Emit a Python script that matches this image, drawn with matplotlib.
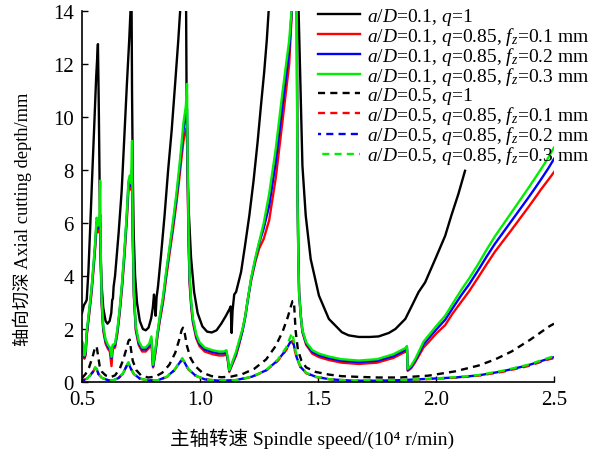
import matplotlib
matplotlib.use('Agg')
import matplotlib.pyplot as plt

plt.rcParams['font.family'] = ['Liberation Serif', 'Noto Sans CJK SC']
plt.rcParams['mathtext.fontset'] = 'custom'
plt.rcParams['mathtext.rm'] = 'Liberation Serif'
plt.rcParams['mathtext.it'] = 'Liberation Serif:italic'

# a/D = 0.1, q = 1 (black solid)
x_k = [0.500, 0.508, 0.515, 0.520, 0.527, 0.534, 0.545, 0.552, 0.560, 0.5675, 0.571, 0.574,
       0.577, 0.582, 0.590, 0.600, 0.608, 0.617, 0.624, 0.628, 0.631, 0.634, 0.640, 0.655,
       0.668, 0.678, 0.690, 0.700, 0.707, 0.710, 0.712, 0.715, 0.719, 0.725, 0.733, 0.745,
       0.758, 0.770, 0.782, 0.793, 0.800, 0.805, 0.809, 0.812, 0.816, 0.822, 0.835, 0.850,
       0.865, 0.880, 0.895, 0.908, 0.918, 0.941, 0.943, 0.946, 0.952, 0.962, 0.975, 0.990,
       1.010, 1.030, 1.050, 1.070, 1.090, 1.110, 1.125, 1.130, 1.134, 1.138, 1.145, 1.153,
       1.174, 1.190, 1.209, 1.227, 1.244, 1.258, 1.272, 1.283, 1.293, 1.417, 1.427, 1.434,
       1.448, 1.469, 1.504, 1.546, 1.601, 1.630, 1.673, 1.720, 1.757, 1.800, 1.828, 1.870,
       1.898, 1.926, 1.954, 1.997, 2.039, 2.065, 2.095, 2.123]
y_k = [2.60, 2.90, 3.00, 3.10, 4.15, 5.66, 8.18, 9.70, 11.50, 12.75, 10.50, 8.00,
       5.50, 3.80, 2.80, 2.30, 2.20, 2.30, 2.60, 3.10, 3.15, 3.60, 4.00, 5.60,
       7.20, 9.00, 11.20, 12.90, 14.30, 14.30, 11.00, 8.00, 5.60, 4.00, 3.00, 2.30,
       2.00, 1.95, 2.05, 2.40, 2.80, 3.30, 2.90, 2.50, 3.20, 3.60, 4.80, 6.30,
       8.00, 9.50, 11.30, 12.90, 14.30, 14.30, 11.00, 8.50, 6.50, 4.70, 3.40, 2.60,
       2.10, 1.90, 1.87, 1.95, 2.20, 2.50, 2.75, 2.85, 1.85, 2.70, 3.30, 3.40,
       4.15, 5.10, 6.28, 7.60, 9.05, 10.40, 11.70, 12.90, 14.30, 14.30, 10.70, 8.16,
       6.28, 4.64, 3.26, 2.38, 1.88, 1.76, 1.70, 1.70, 1.72, 1.85, 2.00, 2.38,
       2.88, 3.39, 3.76, 4.64, 5.52, 6.28, 7.10, 7.97]

# a/D = 0.1, q = 0.85 for fz = 0.1 / 0.2 / 0.3 mm (red / blue / green solid)
x_c = [0.500, 0.505, 0.510, 0.515, 0.520, 0.530, 0.540, 0.550, 0.556, 0.562, 0.568, 0.574,
       0.577, 0.579, 0.583, 0.590, 0.600, 0.610, 0.618, 0.625, 0.630, 0.640, 0.650, 0.660,
       0.670, 0.680, 0.690, 0.697, 0.703, 0.708, 0.712, 0.715, 0.720, 0.728, 0.740, 0.755,
       0.770, 0.785, 0.794, 0.801, 0.806, 0.812, 0.820, 0.830, 0.843, 0.857, 0.871, 0.886,
       0.900, 0.912, 0.921, 0.930, 0.940, 0.945, 0.948, 0.952, 0.956, 0.963, 0.970, 0.984,
       0.998, 1.020, 1.053, 1.080, 1.100, 1.112, 1.118, 1.124, 1.135, 1.153, 1.167, 1.180,
       1.192, 1.202, 1.216, 1.235, 1.251, 1.270, 1.293, 1.321, 1.349, 1.378, 1.392, 1.410,
       1.413, 1.417, 1.420, 1.427, 1.434, 1.450, 1.476, 1.504, 1.546, 1.600, 1.673, 1.750,
       1.820, 1.870, 1.877, 1.880, 1.895, 1.912, 1.930, 1.947, 1.968, 2.000, 2.039, 2.070,
       2.109, 2.140, 2.179, 2.215, 2.250, 2.285, 2.320, 2.355, 2.390, 2.420, 2.446, 2.475,
       2.500]
y_g = [1.55, 1.45, 1.00, 1.15, 1.90, 2.70, 3.50, 4.60, 5.30, 6.20, 5.90, 6.20,
       7.60, 5.20, 3.20, 2.10, 1.60, 1.40, 1.30, 0.95, 1.40, 1.45, 2.00, 2.80,
       3.80, 5.00, 6.40, 7.60, 7.80, 7.50, 9.10, 5.80, 3.40, 2.10, 1.55, 1.30,
       1.30, 1.45, 1.72, 0.65, 0.95, 1.30, 1.90, 2.50, 3.20, 4.20, 5.10, 6.10,
       7.10, 8.10, 8.90, 9.80, 10.40, 11.25, 8.00, 5.50, 4.00, 3.00, 2.40, 1.80,
       1.50, 1.30, 1.20, 1.15, 1.15, 1.20, 0.90, 0.45, 0.70, 1.15, 1.60, 2.00,
       2.50, 3.10, 3.90, 4.70, 5.30, 6.00, 7.10, 8.80, 10.90, 12.90, 14.50, 14.50,
       7.00, 4.50, 3.30, 2.50, 1.95, 1.50, 1.20, 1.07, 0.96, 0.86, 0.81, 0.86,
       1.05, 1.28, 1.36, 0.50, 0.62, 0.87, 1.20, 1.52, 1.75, 2.10, 2.50, 2.95,
       3.50, 3.90, 4.45, 5.00, 5.50, 5.95, 6.40, 6.85, 7.30, 7.70, 8.05, 8.45,
       8.85]
y_b = [1.48, 1.38, 0.94, 1.08, 1.82, 2.62, 3.42, 4.50, 5.20, 6.05, 5.80, 6.10,
       6.30, 5.00, 3.10, 2.02, 1.53, 1.33, 1.23, 0.90, 1.33, 1.38, 1.92, 2.72,
       3.70, 4.90, 6.30, 7.50, 7.70, 7.40, 8.00, 5.60, 3.30, 2.02, 1.48, 1.23,
       1.23, 1.38, 1.62, 0.60, 0.88, 1.23, 1.82, 2.42, 3.10, 4.10, 5.00, 5.95,
       6.95, 7.90, 8.70, 9.50, 10.10, 10.30, 7.60, 5.30, 3.85, 2.90, 2.32, 1.73,
       1.43, 1.23, 1.13, 1.08, 1.08, 1.13, 0.85, 0.42, 0.66, 1.08, 1.52, 1.92,
       2.45, 3.05, 3.85, 4.65, 5.25, 5.80, 6.65, 8.30, 10.40, 12.50, 14.50, 14.50,
       7.20, 4.60, 3.35, 2.50, 1.92, 1.45, 1.14, 1.01, 0.90, 0.80, 0.75, 0.80,
       0.98, 1.21, 1.30, 0.46, 0.57, 0.81, 1.12, 1.42, 1.64, 1.97, 2.35, 2.78,
       3.30, 3.68, 4.22, 4.74, 5.22, 5.65, 6.08, 6.51, 6.94, 7.32, 7.66, 8.05,
       8.42]
y_r = [1.40, 1.30, 0.88, 1.00, 1.74, 2.52, 3.32, 4.38, 5.08, 5.90, 5.65, 5.90,
       6.00, 4.80, 3.00, 1.94, 1.45, 1.25, 1.15, 0.60, 1.25, 1.30, 1.84, 2.62,
       3.60, 4.75, 6.10, 7.30, 7.50, 7.25, 7.60, 5.40, 3.20, 1.94, 1.40, 1.15,
       1.15, 1.30, 1.52, 0.55, 0.80, 1.15, 1.74, 2.32, 2.98, 3.95, 4.85, 5.78,
       6.75, 7.65, 8.40, 9.10, 9.50, 9.60, 7.20, 5.10, 3.70, 2.80, 2.24, 1.65,
       1.35, 1.15, 1.05, 1.00, 1.00, 1.05, 0.80, 0.38, 0.62, 1.00, 1.45, 1.95,
       2.50, 3.10, 3.80, 4.55, 5.05, 5.40, 6.10, 7.70, 9.80, 12.00, 14.50, 14.50,
       7.40, 4.70, 3.40, 2.50, 1.88, 1.40, 1.07, 0.94, 0.83, 0.73, 0.68, 0.73,
       0.91, 1.14, 1.24, 0.42, 0.52, 0.75, 1.03, 1.30, 1.50, 1.82, 2.15, 2.58,
       3.05, 3.42, 3.95, 4.45, 4.92, 5.33, 5.74, 6.16, 6.58, 6.95, 7.28, 7.62,
       7.92]

# a/D = 0.5, q = 1 (black dashed)
x_kd = [0.500, 0.515, 0.530, 0.545, 0.555, 0.562, 0.568, 0.575, 0.585, 0.600, 0.620, 0.640,
        0.660, 0.675, 0.688, 0.697, 0.702, 0.708, 0.715, 0.730, 0.750, 0.780, 0.810, 0.840,
        0.870, 0.895, 0.912, 0.922, 0.928, 0.935, 0.945, 0.960, 0.980, 1.010, 1.050, 1.090,
        1.130, 1.180, 1.230, 1.280, 1.320, 1.350, 1.372, 1.385, 1.392, 1.398, 1.405, 1.415,
        1.430, 1.450, 1.490, 1.546, 1.600, 1.680, 1.757, 1.850, 1.968, 2.080, 2.180, 2.250,
        2.320, 2.400, 2.480, 2.500]
y_kd = [0.15, 0.30, 0.55, 0.95, 1.30, 1.35, 1.00, 0.60, 0.38, 0.25, 0.18, 0.25,
        0.50, 0.85, 1.25, 1.55, 1.60, 1.20, 0.80, 0.45, 0.25, 0.17, 0.20, 0.35,
        0.65, 1.10, 1.60, 1.95, 2.05, 1.85, 1.35, 0.90, 0.60, 0.35, 0.22, 0.18,
        0.20, 0.30, 0.50, 0.85, 1.35, 1.90, 2.45, 2.85, 3.05, 3.05, 1.95, 1.20,
        0.80, 0.55, 0.38, 0.28, 0.22, 0.19, 0.17, 0.17, 0.24, 0.40, 0.62, 0.85,
        1.15, 1.60, 2.10, 2.20]

# a/D = 0.5, q = 0.85 for fz = 0.1 / 0.2 / 0.3 mm (coloured dashed)
x_cd = [0.500, 0.520, 0.535, 0.548, 0.556, 0.562, 0.570, 0.585, 0.610, 0.630, 0.655, 0.675,
        0.690, 0.697, 0.705, 0.720, 0.745, 0.780, 0.820, 0.860, 0.890, 0.910, 0.925, 0.935,
        0.950, 0.980, 1.020, 1.080, 1.150, 1.220, 1.280, 1.330, 1.365, 1.385, 1.392, 1.400,
        1.410, 1.425, 1.450, 1.490, 1.550, 1.650, 1.750, 1.850, 1.968, 2.080, 2.180, 2.280,
        2.390, 2.480, 2.500]
y_gd = [0.05, 0.12, 0.25, 0.42, 0.56, 0.50, 0.30, 0.15, 0.07, 0.06, 0.15, 0.35,
        0.65, 0.75, 0.55, 0.30, 0.13, 0.06, 0.06, 0.20, 0.45, 0.70, 0.90, 0.75,
        0.50, 0.25, 0.10, 0.05, 0.07, 0.20, 0.45, 0.85, 1.30, 1.75, 1.85, 1.40,
        0.95, 0.60, 0.35, 0.20, 0.10, 0.05, 0.05, 0.07, 0.12, 0.18, 0.26, 0.42,
        0.65, 0.92, 0.97]
y_bd = [0.05, 0.12, 0.25, 0.41, 0.55, 0.49, 0.30, 0.15, 0.07, 0.06, 0.15, 0.34,
        0.63, 0.73, 0.54, 0.30, 0.13, 0.06, 0.06, 0.20, 0.44, 0.68, 0.87, 0.73,
        0.49, 0.25, 0.10, 0.05, 0.07, 0.20, 0.44, 0.82, 1.22, 1.55, 1.60, 1.30,
        0.92, 0.58, 0.34, 0.20, 0.10, 0.05, 0.05, 0.07, 0.12, 0.17, 0.25, 0.40,
        0.63, 0.89, 0.94]
y_rd = [0.05, 0.12, 0.24, 0.40, 0.54, 0.48, 0.29, 0.15, 0.07, 0.06, 0.15, 0.33,
        0.62, 0.72, 0.53, 0.29, 0.13, 0.06, 0.06, 0.19, 0.43, 0.67, 0.86, 0.72,
        0.48, 0.24, 0.10, 0.05, 0.07, 0.19, 0.43, 0.80, 1.20, 1.50, 1.55, 1.25,
        0.90, 0.57, 0.33, 0.19, 0.10, 0.05, 0.05, 0.07, 0.11, 0.16, 0.24, 0.38,
        0.60, 0.86, 0.90]

labels = [r'$a/D$=0.1, $q$=1',
          r'$a/D$=0.1, $q$=0.85, $f_z$=0.1 mm',
          r'$a/D$=0.1, $q$=0.85, $f_z$=0.2 mm',
          r'$a/D$=0.1, $q$=0.85, $f_z$=0.3 mm',
          r'$a/D$=0.5, $q$=1',
          r'$a/D$=0.5, $q$=0.85, $f_z$=0.1 mm',
          r'$a/D$=0.5, $q$=0.85, $f_z$=0.2 mm',
          r'$a/D$=0.5, $q$=0.85, $f_z$=0.3 mm']

fig = plt.figure(figsize=(6.06, 4.52), dpi=100)
ax = fig.add_axes([82 / 606, 1 - 383 / 452, 472 / 606, 371 / 452])

lw = 1.7
dash = (3, 2.2)
ax.plot(x_k, y_k, color='black', lw=lw, label=labels[0])
ax.plot(x_c, y_r, color='red', lw=lw, label=labels[1])
ax.plot(x_c, y_b, color='blue', lw=lw, label=labels[2])
ax.plot(x_c, y_g, color='#00ee00', lw=lw, label=labels[3])
ax.plot(x_kd, y_kd, color='black', lw=lw, ls=(0, dash), label=labels[4])
ax.plot(x_cd, y_rd, color='red', lw=lw, ls=(0, dash), label=labels[5])
ax.plot(x_cd, y_bd, color='blue', lw=lw, ls=(1.7, dash), label=labels[6])
ax.plot(x_cd, y_gd, color='#00ee00', lw=lw, ls=(3.4, dash), label=labels[7])

ax.set_xlim(0.5, 2.5)
ax.set_ylim(0, 14)
ax.set_xticks([0.5, 1.0, 1.5, 2.0, 2.5])
ax.set_xticklabels(['0.5', '1.0', '1.5', '2.0', '2.5'])
ax.set_yticks(range(0, 15, 2))
ax.tick_params(direction='in', length=4, width=1, labelsize=15, pad=6)
ax.spines['top'].set_visible(False)
ax.spines['right'].set_visible(False)
for s in ('left', 'bottom'):
    ax.spines[s].set_linewidth(1.2)

ax.set_xlabel('主轴转速 Spindle speed/(10⁴ r/min)', fontsize=14)
ax.xaxis.set_label_coords(0.487, -0.122)
ax.set_ylabel('轴向切深 Axial cutting depth/mm', fontsize=13.2)
ax.yaxis.set_label_coords(-0.106, 0.44)

ax.legend(loc='upper left', bbox_to_anchor=(318 / 606, 1 - 7 / 452),
          bbox_transform=fig.transFigure, frameon=False, fontsize=14,
          handlelength=2.15, handletextpad=0.35, labelspacing=-0.1,
          borderpad=0, borderaxespad=0)

fig.savefig('out.png', dpi=100)
